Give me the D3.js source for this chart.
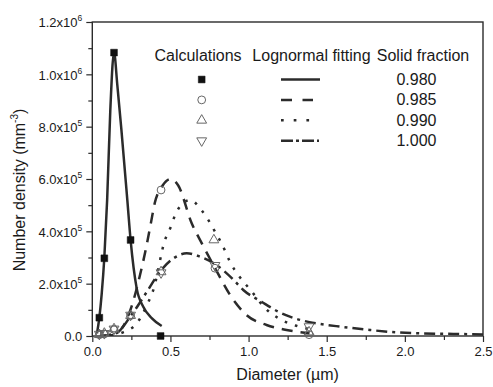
<!DOCTYPE html>
<html>
<head>
<meta charset="utf-8">
<script src="https://cdn.jsdelivr.net/npm/d3@7/dist/d3.min.js"></script>
<style>
  body { margin: 0; background: #fff; }
  svg text { font-family: "Liberation Sans", Arial, sans-serif; fill: #1a1a1a; }
</style>
</head>
<body>
<div id="chart"></div>
<script>
// axis ticks
const xTicks = [0, 0.5, 1.0, 1.5, 2.0, 2.5];
const xTickLabels = ['0.0', '0.5', '1.0', '1.5', '2.0', '2.5'];
const yTicks = [0, 2e5, 4e5, 6e5, 8e5, 1e6, 1.2e6];
const yTickMantissa = ['0.0', '2.0', '4.0', '6.0', '8.0', '1.0', '1.2'];
const yTickExp = [null, '5', '5', '5', '5', '6', '6'];

const solidFractions = ['0.980', '0.985', '0.990', '1.000'];

// calculated points [diameter, density]
const calc0980 = [[0.045, 7.0e4], [0.077, 2.97e5], [0.139, 1.083e6], [0.245, 3.67e5], [0.437, 0]];
const calc0985 = [[0.045, 5e3], [0.077, 8e3], [0.139, 2.5e4], [0.245, 7.8e4], [0.44, 5.58e5], [0.785, 2.59e5], [1.387, 5e3]];
const calc0990 = [[0.045, 5e3], [0.077, 1.0e4], [0.139, 2.7e4], [0.245, 7.8e4], [0.44, 2.45e5], [0.778, 3.67e5], [1.387, 1.5e4]];
const calc1000 = [[0.045, 7e3], [0.077, 1.0e4], [0.139, 2.7e4], [0.245, 8.0e4], [0.44, 2.42e5], [0.785, 2.7e5], [1.387, 3.6e4]];

// lognormal fitting curves
const fit0980 = [[0.03, 1.0e4], [0.045, 7.0e4], [0.06, 1.6e5], [0.077, 3.0e5], [0.095, 5.2e5],
  [0.115, 8.6e5], [0.139, 1.083e6], [0.16, 9.6e5], [0.186, 7.9e5], [0.224, 5.2e5],
  [0.245, 3.67e5], [0.284, 1.82e5], [0.326, 1.12e5], [0.38, 6.8e4], [0.444, 3.8e4]];
const fit0985 = [[0.05, 0], [0.15, 1.0e4], [0.2, 4.0e4], [0.25, 1.1e5], [0.3, 2.2e5],
  [0.348, 3.48e5], [0.375, 4.32e5], [0.40, 5.09e5], [0.45, 5.75e5], [0.5, 6.0e5],
  [0.55, 5.75e5], [0.636, 4.31e5], [0.70, 3.55e5], [0.785, 2.6e5], [0.90, 1.4e5],
  [0.987, 8.0e4], [1.115, 4.2e4], [1.243, 2.3e4], [1.39, 1.0e4]];
const fit0990 = [[0.05, 0], [0.15, 5e3], [0.2, 1.5e4], [0.28, 4.5e4], [0.356, 1.26e5],
  [0.39, 1.75e5], [0.465, 3.67e5], [0.503, 4.18e5], [0.53, 4.63e5], [0.58, 5.07e5],
  [0.625, 5.2e5], [0.70, 4.8e5], [0.742, 4.44e5], [0.785, 3.99e5], [0.827, 3.54e5],
  [0.891, 2.72e5], [0.934, 2.33e5], [1.02, 1.7e5], [1.1, 1.1e5], [1.2, 6.5e4],
  [1.3, 4.0e4], [1.4, 2.5e4]];
const fit1000 = [[0.05, 0], [0.15, 1.0e4], [0.25, 8.0e4], [0.35, 1.7e5], [0.433, 2.46e5],
  [0.52, 2.97e5], [0.604, 3.16e5], [0.69, 3.03e5], [0.785, 2.75e5], [0.90, 2.17e5],
  [0.966, 1.76e5], [1.083, 1.31e5], [1.19, 9.3e4], [1.264, 7.4e4], [1.39, 5.3e4],
  [1.458, 4.6e4], [1.584, 3.6e4], [1.776, 2.3e4], [1.946, 1.4e4], [2.117, 1.0e4],
  [2.31, 8e3], [2.5, 6e3]];

const margin = { left: 92.3, right: 10, top: 22, bottom: 51 };
const totalWidth = 493;
const totalHeight = 387;
const width = totalWidth - margin.left - margin.right;
const height = totalHeight - margin.top - margin.bottom;
const ink = '#2b2b2b';

const series = [
  { frac: solidFractions[0], calc: calc0980, fit: fit0980, marker: 'square',
    dash: null, legendDash: null, legendEnd: 320 },
  { frac: solidFractions[1], calc: calc0985, fit: fit0985, marker: 'circle',
    dash: '11,8', legendDash: '11,10.5', legendEnd: 313 },
  { frac: solidFractions[2], calc: calc0990, fit: fit0990, marker: 'triangle',
    dash: '2.6,8.2', legendDash: '2.7,10', legendEnd: 310 },
  { frac: solidFractions[3], calc: calc1000, fit: fit1000, marker: 'triangleDown',
    dash: '11,5,3,5', legendDash: '12,3,3,3', legendEnd: 319 }
];

const svg = d3.select('#chart')
  .append('svg')
  .attr('width', totalWidth)
  .attr('height', totalHeight);

svg.append('defs').append('clipPath')
  .attr('id', 'plot-clip')
  .append('rect')
  .attr('width', width)
  .attr('height', height);

const g = svg.append('g')
  .attr('transform', 'translate(' + margin.left + ',' + margin.top + ')');

const x = d3.scaleLinear().domain([0, 2.5]).range([0, width]);
const y = d3.scaleLinear().domain([0, 1.2e6]).range([height, 0]);

// minor ticks (no labels)
const xMinor = d3.range(0.25, 2.5, 0.5);
const yMinor = d3.range(1e5, 1.2e6, 2e5);

g.append('g')
  .attr('transform', 'translate(0,' + height + ')')
  .call(d3.axisBottom(x).tickValues(xMinor).tickSize(4).tickFormat(''))
  .call(a => a.select('.domain').remove())
  .call(a => a.selectAll('line').attr('stroke', ink).attr('stroke-width', 1.2));

g.append('g')
  .call(d3.axisLeft(y).tickValues(yMinor).tickSize(4).tickFormat(''))
  .call(a => a.select('.domain').remove())
  .call(a => a.selectAll('line').attr('stroke', ink).attr('stroke-width', 1.2));

// x axis
g.append('g')
  .attr('transform', 'translate(0,' + height + ')')
  .call(d3.axisBottom(x).tickValues(xTicks).tickSize(6).tickPadding(5)
    .tickFormat((d, i) => xTickLabels[i]))
  .call(a => a.select('.domain').remove())
  .call(a => a.selectAll('line').attr('stroke', ink).attr('stroke-width', 1.2))
  .call(a => a.selectAll('text')
    .style('font-family', '"Liberation Sans", Arial, sans-serif')
    .style('font-size', '13px')
    .attr('fill', '#1a1a1a'));

// y axis, labels drawn by hand because of the superscripts
const yAxis = g.append('g')
  .call(d3.axisLeft(y).tickValues(yTicks).tickSize(6).tickFormat(''))
  .call(a => a.select('.domain').remove())
  .call(a => a.selectAll('line').attr('stroke', ink).attr('stroke-width', 1.2));

yAxis.selectAll('.tick').each(function (d, i) {
  const t = d3.select(this).append('text')
    .attr('x', -10)
    .attr('dy', '0.36em')
    .attr('text-anchor', 'end')
    .style('font-size', '13px')
    .text(yTickMantissa[i] + (yTickExp[i] ? 'x10' : ''));
  if (yTickExp[i]) {
    t.append('tspan')
      .attr('dy', -6)
      .style('font-size', '8.5px')
      .text(yTickExp[i]);
  }
});

// frame
g.append('rect')
  .attr('width', width)
  .attr('height', height)
  .attr('fill', 'none')
  .attr('stroke', ink)
  .attr('stroke-width', 1.4);

// axis titles
svg.append('text')
  .attr('x', margin.left + width / 2)
  .attr('y', 380)
  .attr('text-anchor', 'middle')
  .style('font-size', '16px')
  .text('Diameter (\u00b5m)');

const yTitle = svg.append('text')
  .attr('transform', 'translate(25,' + (margin.top + height / 2 + 11) + ') rotate(-90)')
  .attr('text-anchor', 'middle')
  .style('font-size', '16px')
  .text('Number density (mm');
yTitle.append('tspan').attr('dy', -7).style('font-size', '10px').text('-3');
yTitle.append('tspan').attr('dy', 7).text(')');

// fitted curves
const line = d3.line()
  .x(d => x(d[0]))
  .y(d => y(d[1]))
  .curve(d3.curveMonotoneX);

const curves = g.append('g').attr('clip-path', 'url(#plot-clip)');
curves.selectAll('path')
  .data(series)
  .enter()
  .append('path')
  .attr('d', d => line(d.fit))
  .attr('fill', 'none')
  .attr('stroke', ink)
  .attr('stroke-width', 2.5)
  .attr('stroke-dasharray', d => d.dash);

// marker shapes
const markerPath = {
  square: d3.symbol().type(d3.symbolSquare).size(46),
  circle: d3.symbol().type(d3.symbolCircle).size(48),
  triangle: d3.symbol().type(d3.symbolTriangle).size(42),
  triangleDown: d3.symbol().type(d3.symbolTriangle).size(42)
};

function drawMarker(sel, kind) {
  sel.attr('d', markerPath[kind]())
    .attr('fill', kind === 'square' ? '#111' : 'none')
    .attr('stroke', kind === 'square' ? '#111' : '#666')
    .attr('stroke-width', kind === 'square' ? 0.5 : 1);
}

series.forEach(s => {
  g.append('g')
    .selectAll('path')
    .data(s.calc)
    .enter()
    .append('path')
    .attr('transform', d => 'translate(' + x(d[0]) + ',' + y(d[1]) + ')' +
      (s.marker === 'triangleDown' ? ' rotate(180)' : ''))
    .call(drawMarker, s.marker);
});

// legend
const legend = svg.append('g');
const headers = [['Calculations', 198], ['Lognormal fitting', 311.5], ['Solid fraction', 423]];
legend.selectAll('.hdr')
  .data(headers)
  .enter()
  .append('text')
  .attr('x', d => d[1])
  .attr('y', 61)
  .attr('text-anchor', 'middle')
  .style('font-size', '16px')
  .text(d => d[0]);

const rowY = i => 79.5 + 20.4 * i;

series.forEach((s, i) => {
  legend.append('path')
    .attr('transform', 'translate(201.7,' + rowY(i) + ')' +
      (s.marker === 'triangleDown' ? ' rotate(180)' : ''))
    .call(drawMarker, s.marker);

  legend.append('line')
    .attr('x1', 281)
    .attr('x2', s.legendEnd)
    .attr('y1', rowY(i))
    .attr('y2', rowY(i))
    .attr('stroke', ink)
    .attr('stroke-width', 2.5)
    .attr('stroke-dasharray', s.legendDash);

  legend.append('text')
    .attr('x', 416.5)
    .attr('y', rowY(i) + 5.5)
    .attr('text-anchor', 'middle')
    .style('font-size', '16px')
    .text(s.frac);
});
</script>
</body>
</html>
